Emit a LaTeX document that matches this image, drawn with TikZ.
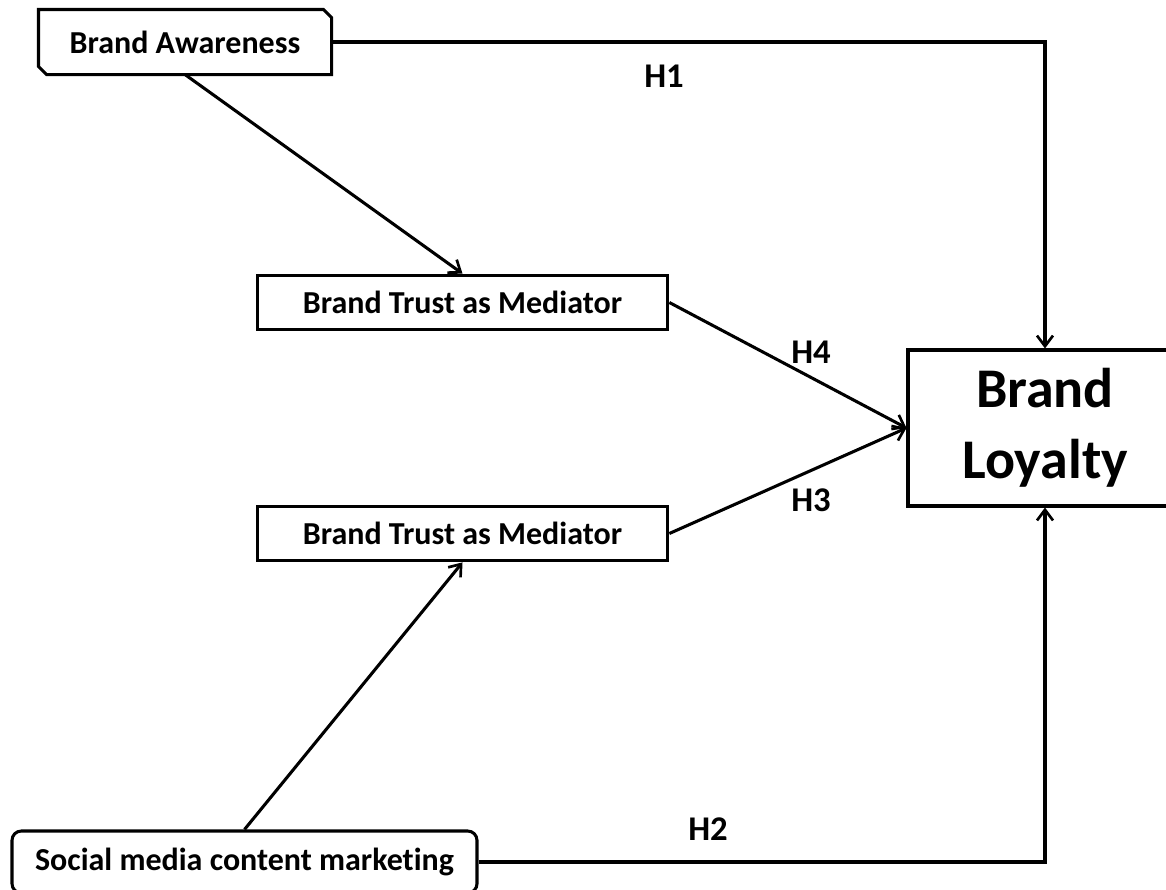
\documentclass[tikz,border=0pt]{standalone}
\usepackage{fontspec}
\setmainfont[Ligatures=NoCommon]{Carlito}
\usetikzlibrary{arrows.meta}
\begin{document}
\begin{tikzpicture}[x=0.75pt,y=-0.75pt,
  line width=2.3pt,
  arr/.style={-{Straight Barb[length=8pt,width=12pt,line width=2pt]}},
  lbl/.style={font=\fontsize{26}{30}\selectfont\bfseries, inner sep=0pt},
  boxtxt/.style={font=\fontsize{24}{28}\selectfont\bfseries, inner sep=0pt},
  plainbox/.style={boxtxt, draw, minimum width=308pt, minimum height=41pt}]
\useasboundingbox (0,0) rectangle (1166,889);
% Brand Awareness (chamfered corners)
\node[boxtxt, minimum width=217.5pt, minimum height=46.5pt] (ba) at (185,42) {Brand Awareness};
\draw ([xshift=6pt]ba.south west) -- ([yshift=6pt]ba.south west) -- (ba.north west)
  -- ([xshift=-6pt]ba.north east) -- ([yshift=-6pt]ba.north east) -- (ba.south east) -- cycle;
\node[plainbox] (t1) at (462.5,302.5) {Brand Trust as Mediator};
\node[plainbox] (t2) at (462.5,533.5) {Brand Trust as Mediator};
\node[draw, minimum width=205.5pt, minimum height=117pt, inner sep=0pt, align=center,
  font=\fontsize{42}{53}\selectfont\bfseries] (bl) at (1045,428) {Brand\\Loyalty};
\node[boxtxt, draw, rounded corners=7pt, minimum width=348.75pt, minimum height=46.5pt] (sm) at (244.5,862) {Social media content marketing};
% connectors
\draw[arr] (ba.east) -| (bl.north);
\draw[arr] (ba.south) -- (t1.north);
\draw[arr] (t1.east) -- (bl.west);
\draw[arr] (t2.east) -- (bl.west);
\draw[arr] (sm.north) -- (t2.south);
\draw[arr] (sm.east) -| (bl.south);
% labels
\node[lbl] (h1) at (664,76) {H1};
\node[lbl] (h4) at (811,352) {H4};
\node[lbl] (h3) at (811,500) {H3};
\node[lbl] (h2) at (708,829) {H2};
\end{tikzpicture}
\end{document}
